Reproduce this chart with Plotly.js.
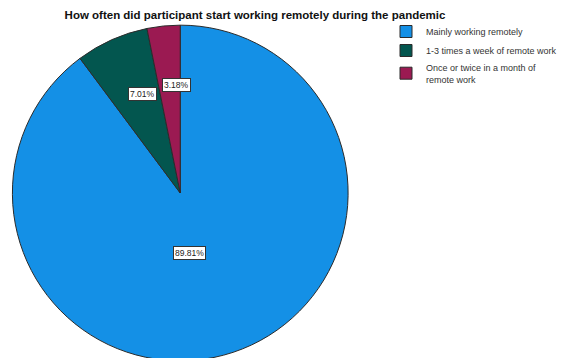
<!DOCTYPE html>
<html>
<head>
<meta charset="utf-8">
<script src="https://cdn.plot.ly/plotly-3.0.1.min.js"></script>
<style>
html, body { margin: 0; padding: 0; overflow: hidden; background: #fff; }
#chart { width: 562px; height: 400px; }
</style>
</head>
<body>
<div id="chart"></div>
<script>
var chartTitle = "How often did participant start working remotely during the pandemic";
var categories = ["Mainly working remotely", "1-3 times a week of remote work", "Once or twice in a month of<br>remote work"];
var percentages = [89.81, 7.01, 3.18];
var sliceColors = ["#1490e6", "#03564f", "#9b1a52"];

var W = 562, H = 400;
// pie: centre (181,193), radius 168
var domX = [13 / W, 365 / W];
var domY = [1 - 369 / H, 1 - 17 / H];

var trace = {
  type: "pie",
  labels: categories,
  values: percentages,
  sort: false,
  direction: "clockwise",
  rotation: 0,
  textinfo: "none",
  hoverinfo: "label+percent",
  marker: { colors: sliceColors, line: { color: "#2b2b2b", width: 1 } },
  domain: { x: domX, y: domY }
};

// label annotations computed from the data (mid-angle of each slice)
var total = percentages.reduce(function (a, b) { return a + b; }, 0);
var cx = 181, cy = 193, R = 168;
var annotations = [];
var cum = 0;
percentages.forEach(function (v, i) {
  var frac = v / total;
  var mid = (cum + frac / 2) * 2 * Math.PI;
  cum += frac;
  var rf = 0.69;
  if (frac > 0.5) { mid = Math.PI; rf = 0.36; }
  var px = cx + Math.sin(mid) * R * rf;
  var py = cy - Math.cos(mid) * R * rf;
  annotations.push({
    xref: "paper", yref: "paper",
    x: px / W, y: 1 - py / H,
    text: v.toFixed(2) + "%",
    showarrow: false,
    font: { family: "Liberation Sans, Arial, sans-serif", size: 8.5, color: "#222" },
    bgcolor: "#ffffff",
    bordercolor: "#333333",
    borderwidth: 1,
    borderpad: 1
  });
});

var layout = {
  width: W, height: H,
  margin: { l: 0, r: 0, t: 0, b: 0 },
  paper_bgcolor: "#ffffff",
  title: {
    text: "<b>" + chartTitle + "</b>",
    x: 255 / W, xanchor: "center",
    y: 1 - 15 / H, yanchor: "middle", yref: "container",
    font: { family: "Liberation Sans, Arial, sans-serif", size: 11.5, color: "#111" }
  },
  showlegend: true,
  legend: {
    x: 405 / W, xanchor: "left",
    y: 1 - 17 / H, yanchor: "top",
    font: { family: "Liberation Sans, Arial, sans-serif", size: 9, color: "#333" },
    bgcolor: "rgba(0,0,0,0)",
    traceorder: "normal",
    itemwidth: 30
  },
  annotations: annotations
};

Plotly.newPlot("chart", [trace], layout, { displayModeBar: false, staticPlot: true });
</script>
</body>
</html>
